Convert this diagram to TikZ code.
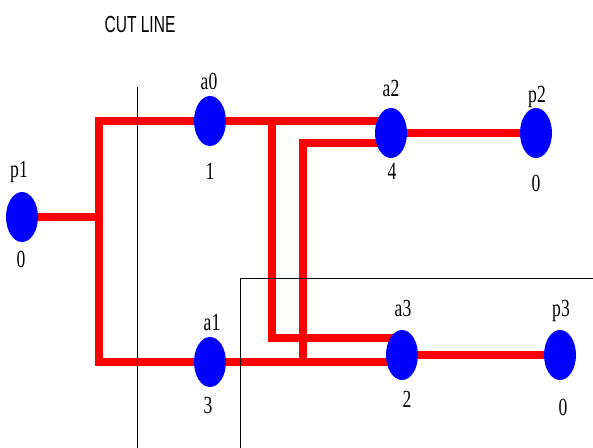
\documentclass[tikz,border=0pt]{standalone}
\usepackage{fontspec}
\setmainfont{Liberation Serif}
\setsansfont{Liberation Sans}
\usetikzlibrary{shapes.geometric,backgrounds}
\newcommand{\tallt}[1]{\scalebox{1}[1.4]{#1}}
\begin{document}
\begin{tikzpicture}[x=0.025cm,y=-0.025cm,
  pin/.style={ellipse,fill=blue,minimum width=0.8cm,minimum height=1.25cm,inner sep=0pt},
  wire/.style={red,line width=5pt},
  cutl/.style={black,line width=0.7pt},
  tag/.style={font=\fontsize{12.5}{14}\selectfont,inner sep=0pt},
  head/.style={font=\sffamily\fontsize{11.4}{13}\selectfont,inner sep=0pt}]
\useasboundingbox (0,0) rectangle (593,448);
\node[head] (title) at (140,24) {\scalebox{0.97}[1.45]{CUT LINE}};
% pins
\node[pin] (p1) at (22,217) {};
\node[pin] (a0) at (210,121) {};
\node[pin] (a2) at (391,133) {};
\node[pin] (p2) at (536,133) {};
\node[pin] (a1) at (210,362) {};
\node[pin] (a3) at (402,355) {};
\node[pin] (p3) at (560,355) {};
% names and values
\node[tag] (p1n) at (19,172) {\tallt{p1}};
\node[tag] (p1v) at (21,259) {\tallt{0}};
\node[tag] (a0n) at (209,81) {\tallt{a0}};
\node[tag] (a0v) at (210,171) {\tallt{1}};
\node[tag] (a2n) at (391,88) {\tallt{a2}};
\node[tag] (a2v) at (392,171) {\tallt{4}};
\node[tag] (p2n) at (537,97) {\tallt{p2}};
\node[tag] (p2v) at (536,183) {\tallt{0}};
\node[tag] (a1n) at (212,322) {\tallt{a1}};
\node[tag] (a1v) at (208,405) {\tallt{3}};
\node[tag] (a3n) at (403,308) {\tallt{a3}};
\node[tag] (a3v) at (407,399) {\tallt{2}};
\node[tag] (p3n) at (561,311) {\tallt{p3}};
\node[tag] (p3v) at (563,407) {\tallt{0}};
\coordinate (split) at (99,217);
\coordinate (t1) at (272,338);
\coordinate (t2) at (303,143);
\coordinate (cuttop) at (137,87);
\coordinate (cutbot) at (137,448);
\coordinate (boxbot) at (240,448);
\coordinate (boxc) at (240,278.5);
\coordinate (boxend) at (593,278.5);
\begin{scope}[on background layer]
\draw[wire] (p1) -- (split);
\draw[wire] (a2 |- a0) -- (a0) -- (a0 -| split) -- (a1 -| split) -- (a1) -- (a1 -| a3);
\draw[wire] (a0 -| t1) -- (t1) -- (t1 -| a3);
\draw[wire] (t2 -| a2) -- (t2) -- (t2 |- a1);
\draw[wire] (a2) -- (p2);
\draw[wire] (a3) -- (p3);
% cut lines
\draw[cutl] (cuttop) -- (cutbot);
\draw[cutl] (boxbot) -- (boxc) -- (boxend);
\end{scope}
\end{tikzpicture}
\end{document}
